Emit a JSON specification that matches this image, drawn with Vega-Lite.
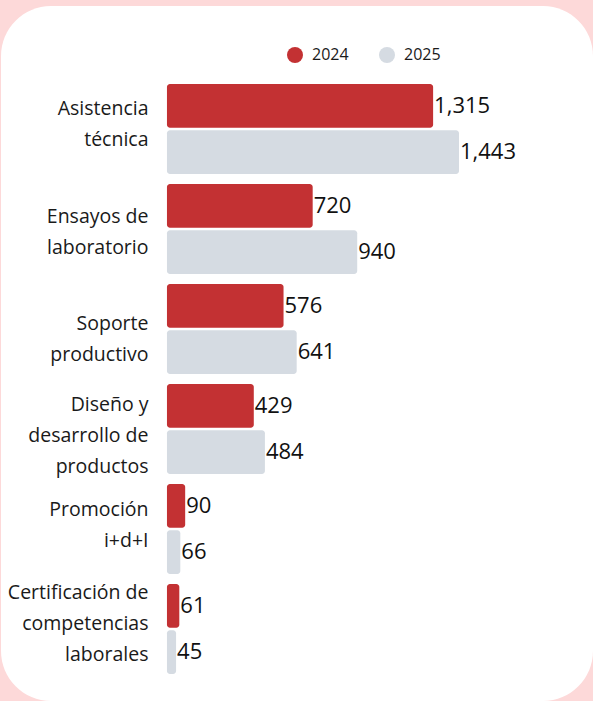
{
  "$schema": "https://vega.github.io/schema/vega-lite/v6.json",
  "width": 592,
  "height": 695,
  "autosize": {"type": "none"},
  "padding": {"left": 1, "top": 6, "right": 0, "bottom": 0},
  "background": "#fdd9d9",
  "config": {
    "view": {"fill": "white", "stroke": null, "cornerRadius": 50},
    "font": "Open Sans"
  },
  "data": {
    "values": [
      {"category": "Asistencia técnica", "year": "2024", "value": 1315},
      {"category": "Asistencia técnica", "year": "2025", "value": 1443},
      {"category": "Ensayos de laboratorio", "year": "2024", "value": 720},
      {"category": "Ensayos de laboratorio", "year": "2025", "value": 940},
      {"category": "Soporte productivo", "year": "2024", "value": 576},
      {"category": "Soporte productivo", "year": "2025", "value": 641},
      {"category": "Diseño y desarrollo de productos", "year": "2024", "value": 429},
      {"category": "Diseño y desarrollo de productos", "year": "2025", "value": 484},
      {"category": "Promoción i+d+I", "year": "2024", "value": 90},
      {"category": "Promoción i+d+I", "year": "2025", "value": 66},
      {"category": "Certificación de competencias laborales", "year": "2024", "value": 61},
      {"category": "Certificación de competencias laborales", "year": "2025", "value": 45}
    ]
  },
  "encoding": {
    "y": {
      "field": "category",
      "type": "nominal",
      "sort": ["Asistencia técnica", "Ensayos de laboratorio", "Soporte productivo", "Diseño y desarrollo de productos", "Promoción i+d+I", "Certificación de competencias laborales"],
      "scale": {"paddingInner": 0.1, "paddingOuter": 0.525, "align": 0.743},
      "axis": {
        "title": null,
        "domain": false,
        "ticks": false,
        "offset": -166,
        "labelPadding": 19,
        "labelFontSize": 19.5,
        "labelColor": "#1a1a1a",
        "labelLineHeight": 31,
        "labelLimit": 0,
        "labelExpr": "datum.value == 'Asistencia técnica' ? ['Asistencia', 'técnica'] : datum.value == 'Ensayos de laboratorio' ? ['Ensayos de', 'laboratorio'] : datum.value == 'Soporte productivo' ? ['Soporte', 'productivo'] : datum.value == 'Diseño y desarrollo de productos' ? ['Diseño y', 'desarrollo de', 'productos'] : datum.value == 'Promoción i+d+I' ? ['Promoción', 'i+d+I'] : ['Certificación de', 'competencias', 'laborales']",
        "labelOffset": {"expr": "datum.value == 'Asistencia técnica' ? -20 : datum.value == 'Ensayos de laboratorio' ? -12 : datum.value == 'Soporte productivo' ? -5 : datum.value == 'Diseño y desarrollo de productos' ? -24 : datum.value == 'Promoción i+d+I' ? -19 : -36"}
      }
    },
    "yOffset": {
      "field": "year",
      "type": "nominal",
      "scale": {"paddingInner": 0.05, "paddingOuter": 0}
    }
  },
  "layer": [
    {
      "mark": {"type": "bar", "cornerRadius": 3},
      "encoding": {
        "x": {
          "field": "value",
          "type": "quantitative",
          "scale": {"domain": [-820, 2105], "nice": false, "zero": false},
          "axis": null
        },
        "x2": {"datum": 0},
        "color": {
          "field": "year",
          "type": "nominal",
          "scale": {"domain": ["2024", "2025"], "range": ["#c33133", "#d5dbe2"]},
          "legend": {
            "title": null,
            "orient": "none",
            "legendX": 286,
            "legendY": 41,
            "direction": "horizontal",
            "symbolType": "circle",
            "symbolSize": 256,
            "symbolStrokeWidth": 0,
            "labelFontSize": 16,
            "labelColor": "#1a1a1a",
            "labelOffset": 9,
            "columnPadding": 30,
            "padding": 0
          }
        }
      }
    },
    {
      "mark": {"type": "text", "align": "left", "baseline": "middle", "dx": 1, "fontSize": 22, "color": "#111111"},
      "encoding": {
        "x": {"field": "value", "type": "quantitative"},
        "text": {"field": "value", "type": "quantitative", "format": ","}
      }
    }
  ]
}
